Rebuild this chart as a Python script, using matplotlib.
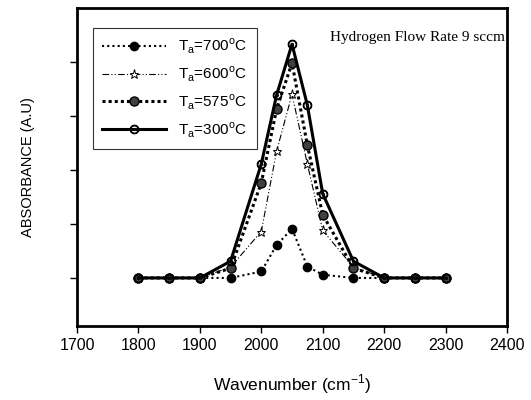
import numpy as np
import matplotlib
matplotlib.use("Agg")
import matplotlib.pyplot as plt

plt.rcParams['font.family'] = ['Liberation Sans', 'DejaVu Sans']
plt.rcParams['mathtext.fontset'] = 'custom'
plt.rcParams['mathtext.rm'] = 'Liberation Sans'

## DATA (arbitrary absorbance units)
wavenumber = [1800, 1850, 1900, 1950, 2000, 2025, 2050, 2075, 2100, 2150, 2200, 2250, 2300]

abs_700 = [0, 0, 0, 0.0, 0.12, 0.61, 0.91, 0.21, 0.06, 0.0, 0, 0, 0]
abs_600 = [0, 0, 0, 0.20, 0.86, 2.35, 3.40, 2.11, 0.88, 0.20, 0, 0, 0]
abs_575 = [0, 0, 0, 0.18, 1.76, 3.13, 3.98, 2.46, 1.17, 0.18, 0, 0, 0]
abs_300 = [0, 0, 0, 0.31, 2.11, 3.39, 4.33, 3.20, 1.56, 0.31, 0, 0, 0]

labels = [r'T$_\mathregular{a}$=700$^\mathregular{o}$C',
          r'T$_\mathregular{a}$=600$^\mathregular{o}$C',
          r'T$_\mathregular{a}$=575$^\mathregular{o}$C',
          r'T$_\mathregular{a}$=300$^\mathregular{o}$C']

xticks = [1700, 1800, 1900, 2000, 2100, 2200, 2300, 2400]


fig = plt.figure(figsize=(5.31, 4.0), dpi=100)
ax = fig.add_axes([77/531, 1 - 326/400, 430/531, 318/400])

ax.plot(wavenumber, abs_700, color='k', ls=(0, (1, 1.5)), lw=1.5,
        marker='o', ms=6, mfc='k', mec='k', label=labels[0])
ax.plot(wavenumber, abs_600, color='k', ls=(0, (6, 2, 1, 2, 1, 2)), lw=0.8,
        marker='*', ms=6.5, mfc='white', mec='k', mew=0.7, label=labels[1])
ax.plot(wavenumber, abs_575, color='k', ls=(0, (1, 1)), lw=2.2,
        marker='o', ms=6.5, mfc='0.25', mec='k', mew=1, label=labels[2])
ax.plot(wavenumber, abs_300, color='k', ls='-', lw=2.2,
        marker='$\\odot$', ms=6, mfc='white', mec='k', label=labels[3])

ax.set_xlim(1700, 2400)
ax.set_ylim(-0.89, 5.0)
ax.set_xticks(xticks)
ax.set_yticks([0, 1, 2, 3, 4])
ax.set_yticklabels([])
ax.tick_params(axis='both', direction='out', length=5, width=1, labelsize=11.5)

for s in ax.spines.values():
    s.set_linewidth(2)

ax.set_xlabel(r'Wavenumber (cm$^\mathregular{-1}$)', fontsize=12.5, labelpad=14)
ax.set_ylabel('ABSORBANCE (A.U)', fontsize=10.5, labelpad=22)

ax.text(0.995, 0.906, 'Hydrogen Flow Rate 9 sccm', transform=ax.transAxes,
        ha='right', va='center', fontsize=11, family='Liberation Serif')

leg = ax.legend(loc='upper left', bbox_to_anchor=(0.019, 0.962), fontsize=11,
                numpoints=1, handlelength=4.2, frameon=True, fancybox=False,
                borderpad=0.6, labelspacing=0.55)
leg.get_frame().set_edgecolor('k')
leg.get_frame().set_linewidth(0.8)

fig.savefig("out.png", dpi=100)
